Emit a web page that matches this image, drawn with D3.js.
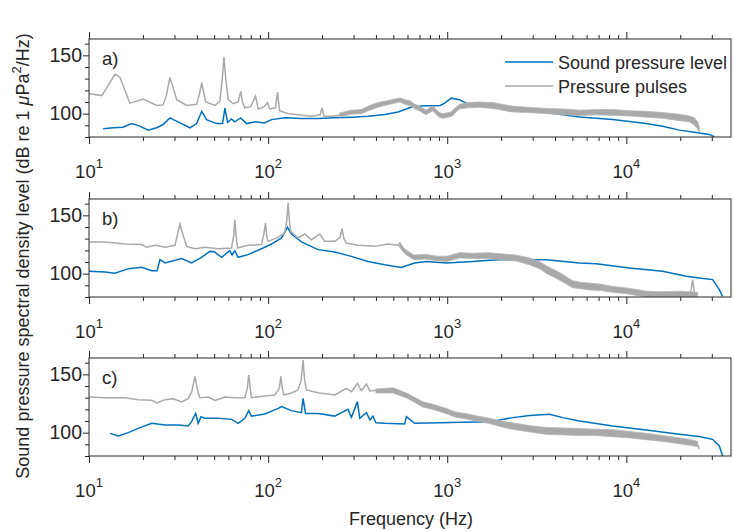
<!DOCTYPE html>
<html>
<head>
<meta charset="utf-8">
<script src="https://cdn.jsdelivr.net/npm/d3@7"></script>
<style>
body { margin: 0; background: #fff; }
svg text { font-family: "Liberation Sans", Arial, sans-serif; fill: #262626; }
</style>
</head>
<body>
<div id="chart"></div>
<script>
// labels and ticks
const panelNames = ["a)", "b)", "c)"]
const seriesNames = ["Sound pressure level", "Pressure pulses"]
const yMajor = [100, 150]
const yMinor = [80, 90, 110, 120, 130, 140, 160]
const xMajor = [10, 100, 1000, 10000]
const xExp = ["1", "2", "3", "4"]
const xMinor = [20, 30, 40, 50, 60, 70, 80, 90, 200, 300, 400, 500, 600, 700, 800, 900,
  2000, 3000, 4000, 5000, 6000, 7000, 8000, 9000, 20000, 30000]

// panel a  [Hz, dB]
const blueA = [[12, 87], [13.7, 87.9], [15.5, 88.4], [17.3, 91.5], [19.2, 89.3], [21.4, 85.9], [23.9, 87.9],
  [25.9, 90.7], [28.3, 96.4], [32.2, 92.1], [36.6, 87.9], [39.9, 91.5], [42.6, 102], [45.3, 94.9], [51.5, 91.5],
  [55.7, 91.5], [57.4, 104.8], [59.4, 92.6], [62.5, 95.5], [65, 93], [70.2, 96.4], [75.8, 91.5], [85.1, 93],
  [95, 92], [104.5, 94.9], [124, 96.4], [153, 95.8], [190, 95.8], [236, 96.4], [292, 96.9], [361, 97.7],
  [448, 99.2], [531, 101.4], [591, 104], [643, 106.2], [764, 106.8], [907, 106.8], [967, 109], [1054, 113.3],
  [1172, 111.9], [1334, 107.6], [1723, 107.6], [2229, 104], [3572, 101], [5473, 97.2], [8394, 94.9],
  [12884, 91.5], [15950, 89.2], [19770, 85.9], [23450, 84.2], [29030, 82.2], [31000, 80.3]]
const grayA = [[10, 117], [11.8, 115.5], [14, 134], [14.9, 131], [16.9, 109], [20.1, 112.5], [23.9, 107],
  [25.9, 107.5], [27, 115], [28.3, 131], [30.9, 112], [35.1, 107], [39.9, 108], [41.5, 118], [42.6, 126.5],
  [44.8, 110], [50.5, 107], [53.8, 110.5], [55.5, 130], [56.7, 148.6], [58, 130], [59.9, 112], [63.8, 108.5],
  [68, 110], [70.4, 119], [72, 110], [74.1, 105], [80, 106], [85.1, 115], [88, 104], [95, 106], [99.3, 109.5],
  [102, 104], [110, 105], [112.8, 118.5], [116, 102.5], [130, 100], [147, 99], [175, 97.7], [195, 99],
  [200, 105], [205, 98], [226, 97.7], [268, 99], [290, 102], [332, 102], [370, 105], [411, 107.6], [450, 109],
  [509, 110.5], [543, 112], [579, 110], [617, 109], [700, 105], [764, 100.6], [832, 104.8], [946, 97.7],
  [1076, 99], [1172, 106], [1391, 107.6], [1723, 107.6], [2230, 103.4], [3572, 102], [5473, 100.6],
  [8394, 100.6], [12884, 99.2], [19770, 96.4], [24490, 92], [25540, 85]]
const grayBandA = [[250, 97, 100.5], [290, 99.5, 103], [330, 100, 103.5], [370, 103, 107], [410, 105.5, 109.5],
  [460, 107.5, 111], [510, 109, 112.5], [545, 110, 113.5], [580, 108, 112], [620, 107, 111], [660, 104, 108],
  [700, 102.5, 106.5], [760, 99, 103], [830, 102.5, 106.5], [900, 97, 101], [950, 96, 100], [1050, 97.5, 101.5],
  [1170, 104, 108], [1300, 105, 109.5], [1500, 105.5, 110], [1800, 104.5, 109.5], [2300, 101.5, 106.5],
  [2800, 101, 105.5], [3600, 100, 104.5], [4500, 99, 104], [5500, 98.5, 103], [6800, 99, 103.5],
  [8400, 98.5, 103.5], [10500, 98, 102.5], [12900, 97, 102], [16000, 96, 101], [19800, 94, 99.5],
  [22500, 93, 98], [24000, 90, 96.5], [25000, 87, 93], [25500, 84, 89]]

// panel b
const blueB = [[10, 102], [12.3, 101.5], [13.97, 100.3], [16.6, 104.3], [19.7, 105.4], [22.4, 102.6], [24, 102.6],
  [24.9, 112], [26.6, 109.2], [32.9, 112.9], [37.4, 109.2], [42.5, 114], [47.3, 119.1], [50, 118.8], [55, 114],
  [61.1, 119.7], [63, 116], [65.2, 119.7], [68, 114], [77.3, 116.3], [91.8, 121.4], [104.5, 125.4],
  [118.9, 130.6], [128.3, 139.7], [135, 134], [153.5, 127.2], [190, 120.6], [235.6, 118.6], [291.9, 114.8],
  [361, 110.5], [447.7, 107.7], [554.6, 105.4], [657.6, 109.2], [764, 110.5], [988, 109.2], [1391, 110.5],
  [1723, 111.4], [1959, 112], [3572, 112], [5473, 109.2], [6791, 108.6], [10400, 104.9], [15950, 102],
  [21570, 97.7], [25540, 96.3], [30330, 94.9], [33050, 86.3], [34470, 80.5]]
const grayB = [[10, 127.2], [12.3, 127.2], [15.9, 125.4], [19.7, 124.9], [21, 122.6], [23.4, 124.3],
  [26.6, 122.6], [30.2, 124.3], [31.3, 135], [32.2, 142.6], [33.2, 135], [35.1, 123.4], [39, 121.4],
  [44.4, 122.6], [52.6, 121.4], [62.5, 122], [64.3, 133], [65.2, 146.3], [66.2, 133], [67.5, 122],
  [77.3, 124.3], [91.8, 124.9], [94.5, 133], [96.7, 143.4], [98.5, 131], [100, 127.7], [113.8, 131.1],
  [123.9, 134.9], [127, 145], [129.3, 160.6], [131.5, 145], [133.8, 136.3], [146.9, 130.6], [160.2, 134],
  [174.6, 129.1], [194.2, 134], [207, 127.7], [235.6, 127.7], [252, 131], [258.6, 138.6], [265, 130],
  [273.6, 126.3], [317.7, 124.3], [393.8, 123.4], [467, 125.4], [531, 124.3], [545, 126.3], [578, 118.6],
  [657.6, 113.5], [764, 114.3], [988, 112.6], [1172, 116.3], [1723, 115.4], [1959, 114.3], [2427, 113.5],
  [2882, 110.5], [3572, 103.4], [4418, 96.3], [5026, 90.6], [6223, 88.6], [8394, 86.3], [11350, 84],
  [12884, 82.6], [19770, 82.6], [22800, 83], [23450, 94.9], [24000, 83], [25000, 82]]
const grayBandB = [[540, 123, 127], [580, 117, 121], [650, 112, 116], [760, 112.5, 116.5], [880, 111, 115],
  [1000, 110.5, 115], [1170, 113.5, 118], [1400, 113, 117.5], [1700, 113, 118], [2000, 112, 117],
  [2400, 111, 116], [2900, 107.5, 113.5], [3300, 104, 110], [3600, 100, 106.5], [4000, 96.5, 103],
  [4400, 93, 99.5], [5000, 88, 94], [5600, 87, 92.5], [6200, 86, 92], [7200, 85.5, 91], [8400, 84, 89],
  [9800, 83, 88], [11300, 81.5, 86.5], [13000, 80, 85], [15500, 80, 84.5], [20000, 80, 85], [25000, 80, 84]]

// panel c
const blueC = [[13.1, 99.4], [14.56, 97.1], [16.6, 100], [18.8, 103.7], [22.4, 108], [26.6, 106.5],
  [31.5, 106.5], [35.8, 105.7], [37.4, 109.4], [39.4, 116.5], [40.7, 108], [42.2, 113.7], [44.4, 112.3],
  [52.6, 112.3], [62.5, 111.4], [68, 108], [74.1, 112.3], [78, 118.9], [80.7, 114.2], [95.9, 116],
  [113.8, 120.8], [118.9, 122.3], [135, 118.9], [153.5, 117.1], [156.7, 129.4], [161.7, 116.5], [190, 116.5],
  [235.6, 114.2], [279, 120], [291.9, 113.1], [315.2, 126.6], [324.7, 112.3], [354, 117.1], [370, 111],
  [385, 114.2], [400, 108.5], [447.7, 108], [578, 107.4], [591.6, 113.7], [657.6, 108], [907, 108.6],
  [1391, 109.1], [1723, 109.1], [1959, 110.8], [2323, 112.9], [2882, 114.8], [3724, 115.7], [4418, 112.9],
  [5473, 110], [8394, 105.7], [12884, 102.3], [19770, 98.6], [25540, 96.7], [30330, 94.3], [33050, 88.6],
  [34470, 80]]
const grayC = [[10, 130.6], [12.3, 130], [15.9, 130], [18.8, 128.3], [22.4, 127.7], [23.9, 125.4], [26.6, 128.3],
  [29.5, 129.1], [32.9, 126.3], [35.8, 129.1], [37.5, 135], [39, 148.3], [40.5, 135], [41.6, 130], [46.3, 130.6],
  [50.5, 127.7], [57.4, 130.6], [65.2, 130], [74.1, 130], [76.5, 138], [78, 149.4], [79.5, 138], [80.7, 130],
  [95.9, 131.4], [109, 132.3], [115.5, 138], [117.8, 148.3], [120, 138], [122.8, 132.3], [135, 134],
  [146.9, 136.6], [153, 145], [156.7, 162.2], [160, 145], [163.7, 136.6], [190, 134.3], [235.6, 132.3],
  [273.6, 138], [291.9, 135.1], [315.2, 142.2], [331.7, 136], [354, 141.6], [370, 136], [467, 136.6],
  [554.6, 132.3], [657.6, 128.3], [732, 124.2], [907, 120], [1124, 115.7], [1391, 112], [1723, 110],
  [1959, 108], [2323, 105.7], [3572, 101.4], [5473, 100.5], [8394, 99.4], [12884, 96.5], [19770, 92.8],
  [25000, 90], [25540, 85.7]]
const grayBandC = [[400, 134, 137.5], [500, 134, 138.5], [600, 129.5, 133.5], [730, 122, 126.5],
  [850, 119.5, 124], [1000, 116, 120.5], [1100, 113.5, 118], [1300, 111.5, 116], [1500, 109.5, 114],
  [1700, 108, 112.5], [2000, 105, 110], [2300, 103, 108.5], [2900, 100.5, 106], [3600, 98.5, 104.5],
  [4500, 98, 104], [5500, 97.5, 103.5], [6800, 97.5, 103], [8400, 96.5, 102.5], [10500, 95.5, 101],
  [12900, 94, 99.5], [16000, 92.5, 97.5], [19800, 90.5, 95.5], [23000, 89, 94], [25000, 88, 92.5]]

const panels = [
  { name: panelNames[0], blue: blueA, gray: grayA, band: grayBandA, top: 39 },
  { name: panelNames[1], blue: blueB, gray: grayB, band: grayBandB, top: 199 },
  { name: panelNames[2], blue: blueC, gray: grayC, band: grayBandC, top: 358 }
]

const blue = "#0072bd"
const gray = "#a9a9a9"
const ink = "#262626"
const left = 89, right = 731, ph = 98

const svg = d3.select("#chart").append("svg").attr("width", 733).attr("height", 531)

const x = d3.scaleLog().domain([10, 38400]).range([left, right])

panels.forEach((p, i) => {
  const y = d3.scaleLinear().domain([80, 164]).range([p.top + ph, p.top])
  const g = svg.append("g")

  g.append("clipPath").attr("id", "clip" + i)
    .append("rect").attr("x", left).attr("y", p.top).attr("width", right - left).attr("height", ph)

  const line = d3.line().x(d => x(d[0])).y(d => y(d[1]))
  const area = d3.area().x(d => x(d[0])).y0(d => y(d[1])).y1(d => y(d[2]))

  const plot = g.append("g").attr("clip-path", "url(#clip" + i + ")")
  plot.append("path").attr("d", line(p.blue)).attr("fill", "none").attr("stroke", blue).attr("stroke-width", 1.5)
  plot.append("path").attr("d", line(p.gray)).attr("fill", "none").attr("stroke", gray).attr("stroke-width", 1.5)
  plot.append("path").attr("d", area(p.band)).attr("fill", gray).attr("stroke", "#b5b5b5").attr("stroke-width", 0.8)

  // frame
  g.append("rect").attr("x", left).attr("y", p.top).attr("width", right - left).attr("height", ph)
    .attr("fill", "none").attr("stroke", ink).attr("stroke-width", 1)

  // x ticks, outward on bottom and top
  const bot = g.append("g").attr("transform", `translate(0,${p.top + ph})`)
  bot.call(d3.axisBottom(x).tickValues(xMinor).tickSize(4).tickFormat(""))
  bot.call(g2 => g2.append("g").call(d3.axisBottom(x).tickValues(xMajor).tickSize(7).tickFormat("")))
  const top = g.append("g").attr("transform", `translate(0,${p.top})`)
  top.call(d3.axisTop(x).tickValues(xMinor).tickSize(4).tickFormat(""))
  top.call(g2 => g2.append("g").call(d3.axisTop(x).tickValues(xMajor).tickSize(7).tickFormat("")))

  // y ticks
  const lft = g.append("g").attr("transform", `translate(${left},0)`)
  lft.call(d3.axisLeft(y).tickValues(yMinor).tickSize(4).tickFormat(""))
  lft.call(g2 => g2.append("g").call(d3.axisLeft(y).tickValues(yMajor).tickSize(6).tickFormat(d => d)))

  g.selectAll(".domain").remove()
  g.selectAll(".tick line").attr("stroke", ink)
  lft.selectAll(".tick text").attr("font-size", 19.5).attr("x", -7).attr("fill", ink)
    .style("font-family", "'Liberation Sans', Arial, sans-serif")

  // decade labels
  xMajor.forEach((v, k) => {
    const t = g.append("text").attr("x", x(v)).attr("y", p.top + ph + 41)
      .attr("text-anchor", "middle").attr("font-size", 18.5)
    t.append("tspan").text("10")
    t.append("tspan").attr("dy", -10).attr("font-size", 13).text(xExp[k])
  })

  g.append("text").attr("x", 102).attr("y", p.top + 26).attr("font-size", 18.5).text(p.name)
})

// legend
const leg = svg.append("g")
;[blue, gray].forEach((c, k) => {
  const ly = 62 + k * 24
  leg.append("line").attr("x1", 505).attr("x2", 553).attr("y1", ly).attr("y2", ly)
    .attr("stroke", c).attr("stroke-width", 1.5)
  leg.append("text").attr("x", 558).attr("y", ly + 7).attr("font-size", 18).text(seriesNames[k])
})

// axis titles
svg.append("text").attr("x", 411).attr("y", 525).attr("text-anchor", "middle").attr("font-size", 18)
  .text("Frequency (Hz)")

const yl = svg.append("text").attr("transform", "translate(29,256) rotate(-90)")
  .attr("text-anchor", "middle").attr("font-size", 18)
yl.append("tspan").text("Sound pressure spectral density level (dB re 1 ")
yl.append("tspan").attr("font-style", "italic").text("\u03bc")
yl.append("tspan").text("Pa")
yl.append("tspan").attr("dy", -8).attr("font-size", 13).text("2")
yl.append("tspan").attr("dy", 8).text("/Hz)")
</script>
</body>
</html>
